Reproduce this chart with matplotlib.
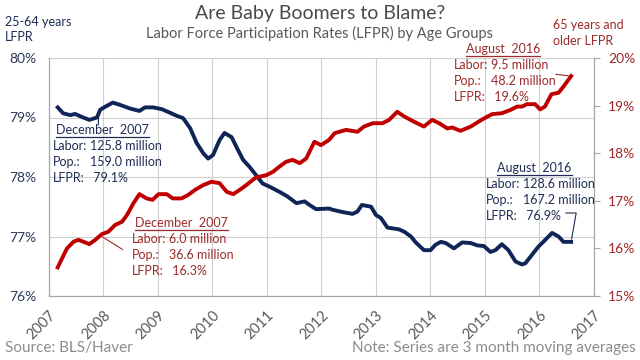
import matplotlib
matplotlib.use("Agg")
import matplotlib.pyplot as plt
from matplotlib.lines import Line2D

plt.rcParams['font.family'] = ['Lato', 'DejaVu Sans']

# 25-64 years LFPR (%), 3 month moving average
prime_t = [2007.16, 2007.26, 2007.39, 2007.48, 2007.60, 2007.74, 2007.88, 2007.94,
           2008.03, 2008.17, 2008.31, 2008.49, 2008.66, 2008.76, 2008.91, 2009.07,
           2009.22, 2009.34, 2009.46, 2009.59, 2009.71, 2009.83, 2009.92, 2010.01,
           2010.13, 2010.22, 2010.35, 2010.47, 2010.56, 2010.68, 2010.80, 2010.92,
           2011.04, 2011.23, 2011.38, 2011.54, 2011.69, 2011.78, 2011.90, 2012.14,
           2012.20, 2012.39, 2012.57, 2012.66, 2012.74, 2012.91, 2013.00, 2013.09,
           2013.21, 2013.42, 2013.52, 2013.64, 2013.73, 2013.88, 2014.00, 2014.09,
           2014.19, 2014.28, 2014.43, 2014.58, 2014.74, 2014.86, 2014.98, 2015.10,
           2015.19, 2015.31, 2015.43, 2015.56, 2015.68, 2015.74, 2015.86, 2015.98,
           2016.07, 2016.23, 2016.35, 2016.44, 2016.58]
prime_v = [79.17, 79.07, 79.04, 79.06, 79.01, 78.96, 79.00, 79.13,
           79.18, 79.25, 79.21, 79.15, 79.11, 79.17, 79.17, 79.14,
           79.08, 79.03, 78.99, 78.82, 78.57, 78.40, 78.31, 78.37,
           78.62, 78.74, 78.67, 78.45, 78.29, 78.17, 78.03, 77.89,
           77.84, 77.75, 77.67, 77.56, 77.59, 77.53, 77.46, 77.47,
           77.45, 77.41, 77.38, 77.42, 77.53, 77.50, 77.36, 77.31,
           77.15, 77.12, 77.08, 77.00, 76.90, 76.77, 76.77, 76.86,
           76.91, 76.89, 76.80, 76.90, 76.89, 76.85, 76.84, 76.74,
           76.77, 76.87, 76.77, 76.58, 76.53, 76.55, 76.69, 76.83,
           76.91, 77.06, 77.00, 76.91, 76.91]

# 65 years and older LFPR (%)
older_t = [2007.16, 2007.24, 2007.33, 2007.45, 2007.54, 2007.63, 2007.74, 2007.85,
           2007.97, 2008.09, 2008.21, 2008.34, 2008.43, 2008.55, 2008.66, 2008.79,
           2008.90, 2009.01, 2009.16, 2009.27, 2009.43, 2009.55, 2009.68, 2009.83,
           2009.98, 2010.13, 2010.26, 2010.38, 2010.50, 2010.62, 2010.74, 2010.80,
           2010.99, 2011.11, 2011.23, 2011.35, 2011.47, 2011.60, 2011.72, 2011.87,
           2011.99, 2012.14, 2012.24, 2012.45, 2012.66, 2012.78, 2012.94, 2013.12,
           2013.24, 2013.39, 2013.52, 2013.70, 2013.88, 2014.03, 2014.16, 2014.31,
           2014.40, 2014.55, 2014.74, 2014.95, 2015.13, 2015.31, 2015.47, 2015.59,
           2015.68, 2015.77, 2015.92, 2016.01, 2016.10, 2016.22, 2016.35, 2016.44,
           2016.58]
older_v = [15.60, 15.79, 16.00, 16.14, 16.18, 16.14, 16.09, 16.18,
           16.30, 16.35, 16.49, 16.56, 16.70, 16.95, 17.14, 17.05,
           17.02, 17.14, 17.14, 17.05, 17.05, 17.12, 17.23, 17.33,
           17.40, 17.37, 17.19, 17.14, 17.23, 17.33, 17.44, 17.49,
           17.54, 17.61, 17.72, 17.82, 17.86, 17.79, 17.89, 18.24,
           18.17, 18.28, 18.42, 18.49, 18.45, 18.56, 18.63, 18.63,
           18.70, 18.87, 18.77, 18.66, 18.56, 18.70, 18.63, 18.52,
           18.54, 18.47, 18.56, 18.71, 18.82, 18.84, 18.91, 18.98,
           18.98, 19.03, 19.03, 18.92, 18.98, 19.24, 19.27, 19.40,
           19.62]

years = list(range(2007, 2018))
left_ticks = [76, 77, 78, 79, 80]
right_ticks = [15, 16, 17, 18, 19, 20]

navy = '#0f2557'
red = '#c00000'
navy_txt = '#1f2d55'
red_txt = '#9c2a2a'
gray = '#595959'
grid = '#d0d0d0'

W, H = 640, 360
fig = plt.figure(figsize=(6.4, 3.6), dpi=100)
ax = fig.add_axes([49 / W, 1 - 296 / H, (594 - 49) / W, (296 - 58) / H])
ax2 = ax.twinx()

ax.set_xlim(2007, 2017)
ax.set_ylim(76, 80)
ax2.set_ylim(15, 20)
ax.set_xticks(years)
ax.set_xticklabels([str(y) for y in years], rotation=45, ha='right',
                   rotation_mode='anchor', fontsize=10.5, color=gray)
ax.set_yticks(left_ticks)
ax.set_yticklabels(['%d%%' % v for v in left_ticks], fontsize=10, color='#2b3a5c')
ax2.set_yticks(right_ticks)
ax2.set_yticklabels(['%d%%' % v for v in right_ticks], fontsize=10, color=red_txt)
ax.tick_params(axis='y', length=0, pad=9)
ax.tick_params(axis='x', length=0, pad=9)
ax2.tick_params(axis='y', length=4, width=0.8, color='#a6a6a6', direction='out', pad=6)
ax.grid(True, color=grid, linewidth=0.8)
ax.set_axisbelow(True)
for a in (ax, ax2):
    a.spines['top'].set_visible(False)
    for s in ('left', 'right', 'bottom'):
        a.spines[s].set_color('#a6a6a6')
        a.spines[s].set_linewidth(0.8)

ax.plot(prime_t, prime_v, color=navy, lw=2.8, solid_joinstyle='round', zorder=3)
ax2.plot(older_t, older_v, color=red, lw=2.8, solid_joinstyle='round', zorder=3)


def px(x, y):
    return x / W, 1 - y / H


def heading(x, y, text, color, size=9):
    # underlined heading
    t = fig.text(*px(x, y), text, color=color, fontsize=size, va='center', ha='left')
    fig.canvas.draw()
    bb = t.get_window_extent()
    hy = 1 - (y + 6.5) / H
    fig.add_artist(Line2D([bb.x0 / W, bb.x1 / W], [hy, hy], color=color, lw=0.9))


def rows_at(x, y, rows, color, size=9, step=16, col=37):
    for i, (lab, val) in enumerate(rows):
        fig.text(*px(x, y + i * step), lab, color=color, fontsize=size, va='center', ha='left')
        fig.text(*px(x + col, y + i * step), val, color=color, fontsize=size,
                 va='center', ha='left')


# titles
fig.text(0.5, 1 - 13.3 / H, 'Are Baby Boomers to Blame?', ha='center', va='center',
         fontsize=14, color='#4a4a4a')
fig.text(0.5, 1 - 33.3 / H, 'Labor Force Participation Rates (LFPR) by Age Groups',
         ha='center', va='center', fontsize=10.5, color=gray)
fig.text(*px(5, 21.7), '25-64 years', fontsize=9, color=navy_txt, va='center')
fig.text(*px(5, 37), 'LFPR', fontsize=9, color=navy_txt, va='center')
fig.text(*px(553, 25), '65 years and', fontsize=9, color=red_txt, va='center')
fig.text(*px(553, 41), 'older LFPR', fontsize=9, color=red_txt, va='center')
fig.text(*px(5, 348.3), 'Source: BLS/Haver', fontsize=11, color='#8c8c8c', va='center')
fig.text(*px(636, 348.3), 'Note: Series are 3 month moving averages', fontsize=11,
         color='#8c8c8c', va='center', ha='right')

# annotations
heading(56, 130, 'December  2007', navy_txt)
rows_at(53.3, 146, [('Labor:', '125.8 million'), ('Pop.:', '159.0 million'),
                    ('LFPR:', ' 79.1%')], navy_txt)
ax.annotate('', xy=(2007.91, 79.13), xycoords='data',
            xytext=(98.3, H - 128), textcoords='figure pixels',
            arrowprops=dict(arrowstyle='-', color=navy_txt, lw=0.8))

heading(135, 223.3, 'December  2007', red_txt)
rows_at(131.7, 239, [('Labor:', '6.0 million'), ('Pop.:', '36.6 million'),
                     ('LFPR:', ' 16.3%')], red_txt)
ax2.annotate('', xy=(older_t[8] - 0.03, 16.27), xycoords='data',
             xytext=(125, H - 251), textcoords='figure pixels',
             arrowprops=dict(arrowstyle='-', color=red_txt, lw=0.8))

heading(466, 49.3, 'August  2016', red_txt)
rows_at(454, 65, [('Labor:', '9.5 million'), ('Pop.:', '48.2 million'),
                  ('LFPR:', ' 19.6%')], red_txt)
ax2.annotate('', xy=(older_t[-1], older_v[-1]), xycoords='data',
             xytext=(553, H - 74), textcoords='figure pixels',
             arrowprops=dict(arrowstyle='-', color=red_txt, lw=0.8))

heading(497.3, 168.3, 'August  2016', navy_txt)
rows_at(485.7, 184, [('Labor:', '128.6 million'), ('Pop.:', '167.2 million'),
                     ('LFPR:', ' 76.9%')], navy_txt)
ax.annotate('', xy=(prime_t[-1], prime_v[-1]), xycoords='data',
            xytext=(563, H - 213), textcoords='figure pixels',
            arrowprops=dict(arrowstyle='-', color=navy_txt, lw=0.8,
                            connectionstyle='angle,angleA=0,angleB=80,rad=0'))

fig.savefig('out.png', dpi=100)
